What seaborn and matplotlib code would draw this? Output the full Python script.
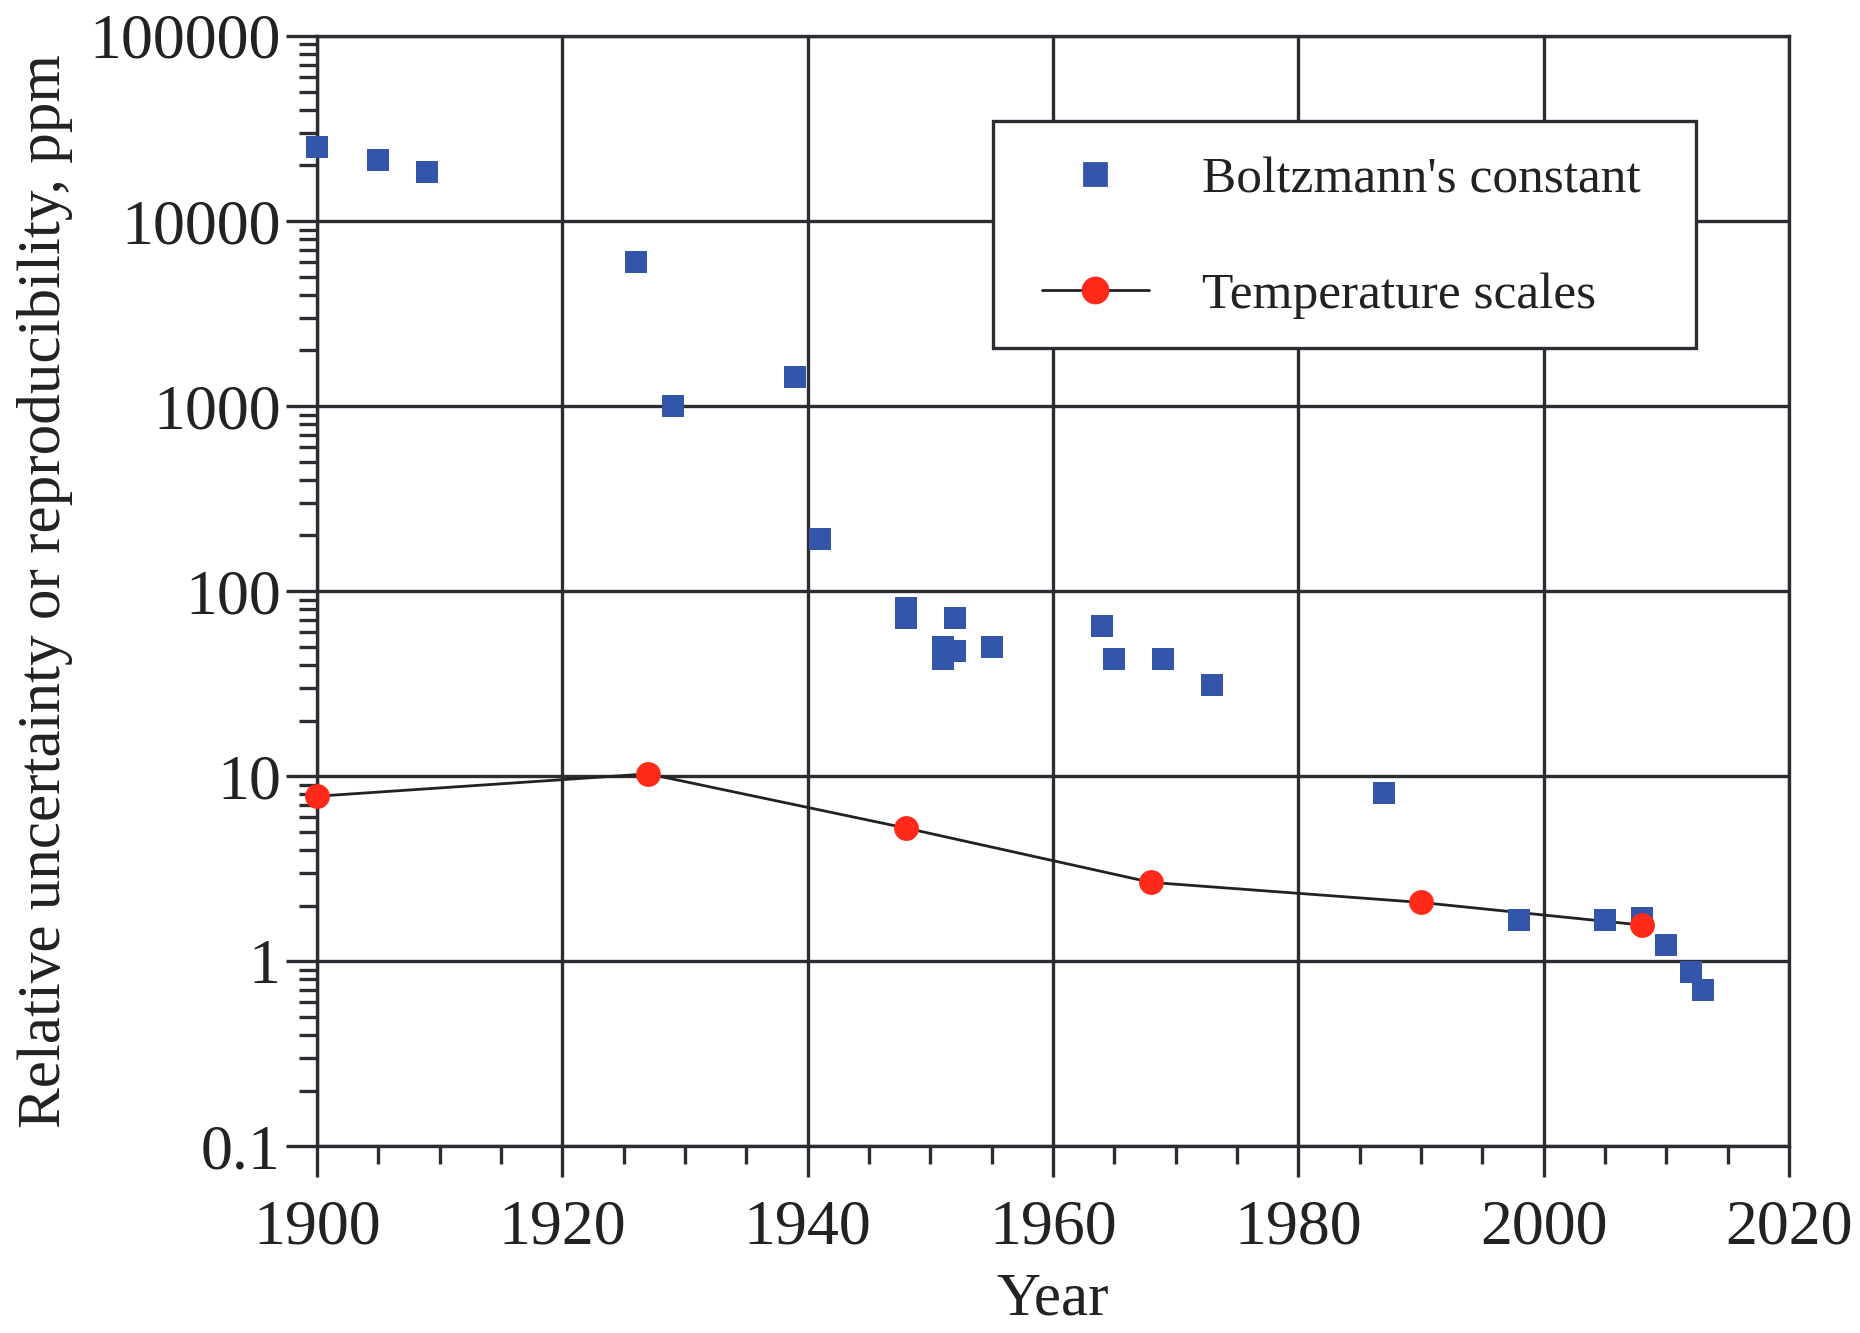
import matplotlib
matplotlib.use("Agg")
import matplotlib.pyplot as plt
import seaborn as sns
import pandas as pd
from matplotlib.lines import Line2D
from matplotlib.patches import Rectangle
from matplotlib.ticker import LogLocator, MultipleLocator, FuncFormatter, NullFormatter

# Boltzmann's constant determinations (year, relative uncertainty in ppm)
boltz_year = [1900, 1905, 1909, 1926, 1929, 1939, 1941, 1948, 1948, 1951, 1951, 1952,
              1952, 1955, 1964, 1965, 1969, 1973, 1987, 1998, 2005, 2008, 2010, 2012, 2013]
boltz_ppm = [25000, 21500, 18400, 6000, 1000, 1440, 192, 81, 72, 50, 43, 72,
             47.6, 50, 65, 43, 43, 31, 8.15, 1.67, 1.67, 1.71, 1.23, 0.88, 0.70]

# Temperature scales (year, reproducibility in ppm)
temp_year = [1900, 1927, 1948, 1968, 1990, 2008]
temp_ppm = [7.8, 10.3, 5.25, 2.67, 2.08, 1.57]

legend_labels = ["Boltzmann's constant", "Temperature scales"]

BLUE = "#3355aa"
RED = "#ff2a1a"
DARK = "#2b2d33"
TXT = "#222222"

sns.set_style("white")
plt.rcParams["font.family"] = ["Liberation Serif", "DejaVu Serif"]

boltz = pd.DataFrame({"year": boltz_year, "ppm": boltz_ppm})
temp = pd.DataFrame({"year": temp_year, "ppm": temp_ppm})

fig = plt.figure(figsize=(9.3, 6.665))
ax = fig.add_axes([0.1704, 0.140, 0.7914, 0.833])

sns.lineplot(data=temp, x="year", y="ppm", color=TXT, linewidth=1.0,
             estimator=None, sort=False, ax=ax, zorder=3)
sns.scatterplot(data=boltz, x="year", y="ppm", marker="s", color=BLUE, s=64,
                linewidth=0, ax=ax, zorder=4, clip_on=False)
sns.scatterplot(data=temp, x="year", y="ppm", marker="o", color=RED, s=80,
                linewidth=0, ax=ax, zorder=5, clip_on=False)

ax.set_yscale("log")
ax.set_xlim(1900, 2020)
ax.set_ylim(0.1, 100000)

ax.xaxis.set_major_locator(MultipleLocator(20))
ax.xaxis.set_minor_locator(MultipleLocator(5))
ax.yaxis.set_major_locator(LogLocator(base=10, numticks=20))
ax.yaxis.set_minor_locator(LogLocator(base=10, subs=range(2, 10), numticks=20))
ax.yaxis.set_major_formatter(FuncFormatter(lambda v, _: f"{v:g}"))
ax.yaxis.set_minor_formatter(NullFormatter())

ax.grid(True, which="major", color=DARK, linewidth=1.2)
for sp in ax.spines.values():
    sp.set_color(DARK)
    sp.set_linewidth(1.2)

ax.tick_params(axis="both", which="both", direction="out", color=DARK, width=1.2,
               bottom=True, left=True, top=False, right=False,
               labelsize=23, labelcolor=TXT)
ax.tick_params(axis="both", which="major", length=11)
ax.tick_params(axis="both", which="minor", length=6.5)
ax.tick_params(axis="x", which="major", pad=8)
ax.tick_params(axis="y", which="major", pad=2)

ax.set_xlabel("Year", fontsize=22, color=TXT)
ax.xaxis.set_label_coords(0.5, -0.1135)
ax.set_ylabel("Relative uncertainty or reproducibility, ppm", fontsize=22,
              color=TXT, labelpad=6)

# legend box (white, covers the grid)
ax.add_patch(Rectangle((0.4592, 0.7189), 0.4776, 0.2045, transform=ax.transAxes,
                       facecolor="white", edgecolor=DARK, linewidth=1.2,
                       zorder=6, clip_on=False))

handles = [
    Line2D([], [], ls="none", marker="s", color=BLUE, markersize=8),
    Line2D([], [], color=TXT, lw=1.0, marker="o", markerfacecolor=RED,
           markeredgecolor=RED, markersize=9),
]
leg = ax.legend(handles, legend_labels,
                loc="upper left", bbox_to_anchor=(0.4749, 0.9146), borderaxespad=0,
                fontsize=18.5, frameon=False,
                handlelength=2.09, handletextpad=1.02, labelspacing=1.34,
                borderpad=0.5)
leg.set_zorder(7)
for t in leg.get_texts():
    t.set_color(TXT)

fig.savefig("out.png", dpi=200)
